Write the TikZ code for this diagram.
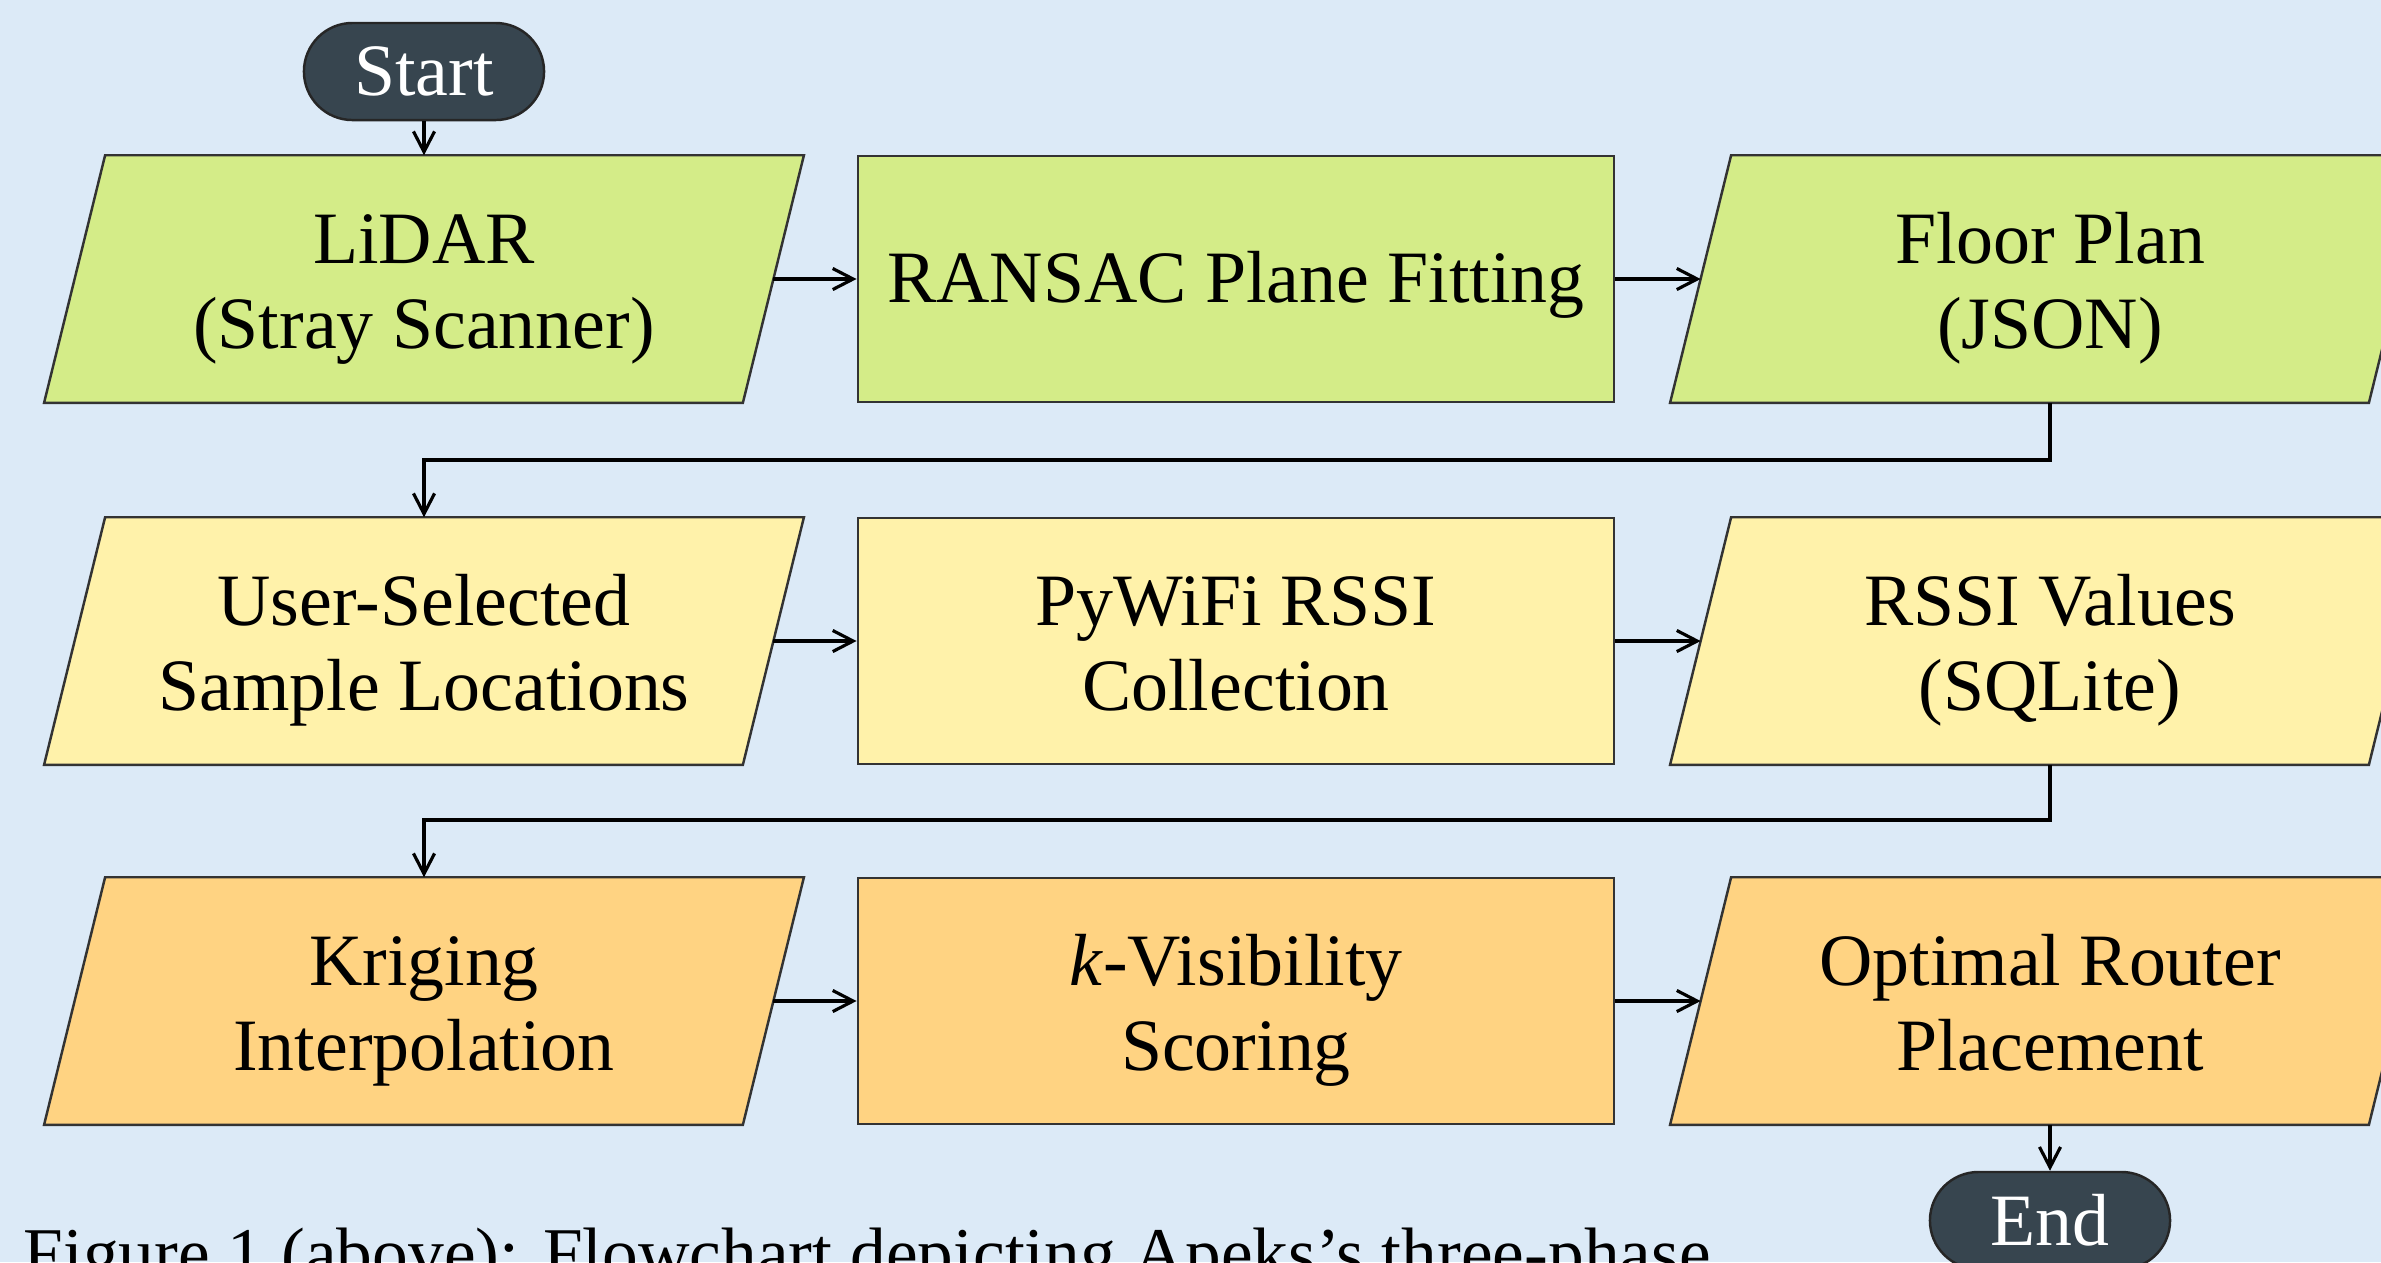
\documentclass[tikz,border=0pt]{standalone}
\usepackage{fontspec}
\setmainfont{Liberation Serif}
\usetikzlibrary{arrows.meta,calc,backgrounds,shapes.misc}
\definecolor{bgblue}{HTML}{DCEAF7}
\definecolor{phaseA}{HTML}{D4EC88}
\definecolor{phaseB}{HTML}{FFF2AA}
\definecolor{phaseC}{HTML}{FFD382}
\definecolor{termfill}{HTML}{37454F}
\definecolor{edgegray}{HTML}{333333}
\newcommand{\twoline}[1]{\raisebox{0pt}[\dimexpr\height+0.2cm\relax][\depth]{\begin{tabular}{@{}c@{}}#1\end{tabular}}}
\newcommand{\oneline}[1]{\raisebox{0pt}[\dimexpr\height+0.12cm\relax][\depth]{#1}}
\tikzset{
  boxtext/.style={font=\fontsize{21}{24}\selectfont, text=black, inner sep=0pt},
  paranode/.style={boxtext, shape=rectangle, minimum width=6.97cm, minimum height=2.46cm},
  rectnode/.style={boxtext, shape=rectangle, draw=edgegray, line width=0.7pt, minimum width=7.56cm, minimum height=2.46cm},
  paraedge/.style={draw=edgegray, line width=0.7pt},
  termnode/.style={shape=rounded rectangle, draw=black!85, line width=0.7pt, fill=termfill, text=white,
    font=\fontsize{21}{24}\selectfont, minimum width=2.4cm, minimum height=0.97cm, inner sep=0pt},
  flow/.style={draw=black, line width=0.9pt, -{Straight Barb[length=5.8pt,width=6pt,line width=0.9pt]}},
}
\newcommand{\parashape}[2]{%
  \draw[paraedge, fill=#2] ([xshift=0.305cm]#1.north west) -- ([xshift=0.305cm]#1.north east)
    -- ([xshift=-0.305cm]#1.south east) -- ([xshift=-0.305cm]#1.south west) -- cycle;}
\begin{document}
\begin{tikzpicture}[x=0.01cm,y=-0.01cm]
\useasboundingbox (0,0) rectangle (2381,1262);
\clip (0,0) rectangle (2381,1262);

% nodes
\node[termnode] (start) at (424,71.5) {Start};

\node[paranode] (lidar) at (424,279) {\twoline{LiDAR\\(Stray Scanner)}};
\node[rectnode, fill=phaseA] (ransac) at (1236,279) {\oneline{RANSAC Plane Fitting}};
\node[paranode] (floor) at (2050,279) {\twoline{Floor Plan\\(JSON)}};

\node[paranode] (user) at (424,641) {\twoline{User-Selected\\Sample Locations}};
\node[rectnode, fill=phaseB] (pywifi) at (1236,641) {\twoline{PyWiFi RSSI\\Collection}};
\node[paranode] (rssi) at (2050,641) {\twoline{RSSI Values\\(SQLite)}};

\node[paranode] (krig) at (424,1001) {\twoline{Kriging\\Interpolation}};
\node[rectnode, fill=phaseC] (kvis) at (1236,1001) {\twoline{\textit{k}-Visibility\\Scoring}};
\node[paranode] (opt) at (2050,1001) {\twoline{Optimal Router\\Placement}};

\node[termnode] (end) at (2050,1220.5) {End};

\node[anchor=base west, inner sep=0pt, font=\fontsize{20.3}{24}\selectfont] (cap) at (23,1277)
  {Figure 1 (above): Flowchart depicting Apeks’s three-phase};

\begin{pgfonlayer}{background}
  \fill[bgblue] (0,0) rectangle (2381,1262);
  \parashape{lidar}{phaseA}
  \parashape{floor}{phaseA}
  \parashape{user}{phaseB}
  \parashape{rssi}{phaseB}
  \parashape{krig}{phaseC}
  \parashape{opt}{phaseC}
\end{pgfonlayer}

% connectors
\draw[flow] (start.south) -- (lidar.north);
\draw[flow] (lidar.east) -- (ransac.west);
\draw[flow] (ransac.east) -- (floor.west);
\coordinate (e1) at (2050,460);
\coordinate (e2) at (424,460);
\draw[flow] (floor.south) -- (e1) -- (e2) -- (user.north);
\draw[flow] (user.east) -- (pywifi.west);
\draw[flow] (pywifi.east) -- (rssi.west);
\coordinate (f1) at (2050,820);
\coordinate (f2) at (424,820);
\draw[flow] (rssi.south) -- (f1) -- (f2) -- (krig.north);
\draw[flow] (krig.east) -- (kvis.west);
\draw[flow] (kvis.east) -- (opt.west);
\draw[flow] (opt.south) -- (end.north);
\end{tikzpicture}
\end{document}
